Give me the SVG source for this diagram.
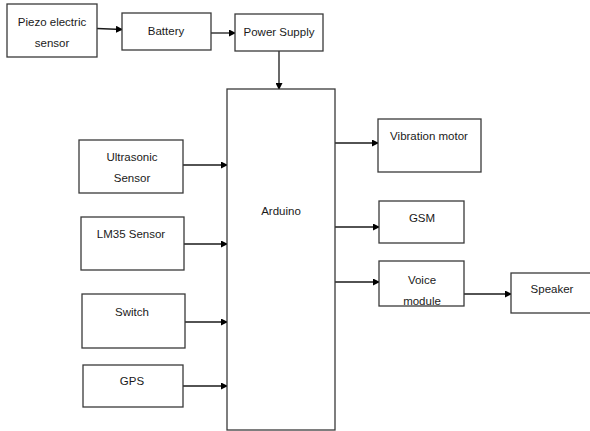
<svg xmlns="http://www.w3.org/2000/svg" width="590" height="431" viewBox="0 0 590 431">
<style>
.box{fill:#fff;stroke:#3a3a3a;stroke-width:1.3}
.t{font-family:"Liberation Sans",Arial,sans-serif;font-size:11.5px;fill:#1a1a1a;text-anchor:middle}
.c{stroke:#1a1a1a;stroke-width:1.3;fill:none;marker-end:url(#ah)}
</style>
<defs>
<marker id="ah" markerWidth="7" markerHeight="7" refX="6" refY="3.5" orient="auto" markerUnits="userSpaceOnUse">
<path d="M0,0 L7,3.5 L0,7 Z" fill="#000"/>
</marker>
</defs>
<rect width="590" height="431" fill="#fff"/>
<g id="connectors">
<path class="c" d="M97,28.5 L122,29.5"/>
<path class="c" d="M211,33 L235,33"/>
<path class="c" d="M279,51 L279,89"/>
<path class="c" d="M183,165 L227,165"/>
<path class="c" d="M184,244 L227,244"/>
<path class="c" d="M185,322 L227,322"/>
<path class="c" d="M183,386 L227,386"/>
<path class="c" d="M335,143 L378,143"/>
<path class="c" d="M335,227 L379,227"/>
<path class="c" d="M335,282 L379,282"/>
<path class="c" d="M464,294 L511,294"/>
</g>
<g id="piezo"><rect class="box" x="7" y="4" width="90" height="53"/><text class="t" x="52" y="26">Piezo electric</text><text class="t" x="52" y="47">sensor</text></g>
<g id="battery"><rect class="box" x="122" y="13" width="89" height="37"/><text class="t" x="166" y="35">Battery</text></g>
<g id="power"><rect class="box" x="235" y="14" width="88" height="37"/><text class="t" x="279" y="36">Power Supply</text></g>
<g id="arduino"><rect class="box" x="227" y="89" width="108" height="341"/><text class="t" x="281" y="215">Arduino</text></g>
<g id="ultrasonic"><rect class="box" x="79" y="140" width="104" height="53"/><text class="t" x="132" y="161">Ultrasonic</text><text class="t" x="132" y="182">Sensor</text></g>
<g id="lm35"><rect class="box" x="81" y="217" width="103" height="53"/><text class="t" x="131" y="238">LM35 Sensor</text></g>
<g id="switch"><rect class="box" x="82" y="294" width="103" height="54"/><text class="t" x="132" y="316">Switch</text></g>
<g id="gps"><rect class="box" x="83" y="365" width="100" height="42"/><text class="t" x="132" y="385">GPS</text></g>
<g id="vibration"><rect class="box" x="378" y="119" width="103" height="53"/><text class="t" x="429" y="140">Vibration motor</text></g>
<g id="gsm"><rect class="box" x="379" y="201" width="85" height="42"/><text class="t" x="422" y="222">GSM</text></g>
<g id="voice"><rect class="box" x="379" y="261" width="85" height="45"/><text class="t" x="422" y="284">Voice</text><text class="t" x="422" y="305">module</text></g>
<g id="speaker"><rect class="box" x="511" y="273" width="82" height="40"/><text class="t" x="552" y="293">Speaker</text></g>
</svg>
